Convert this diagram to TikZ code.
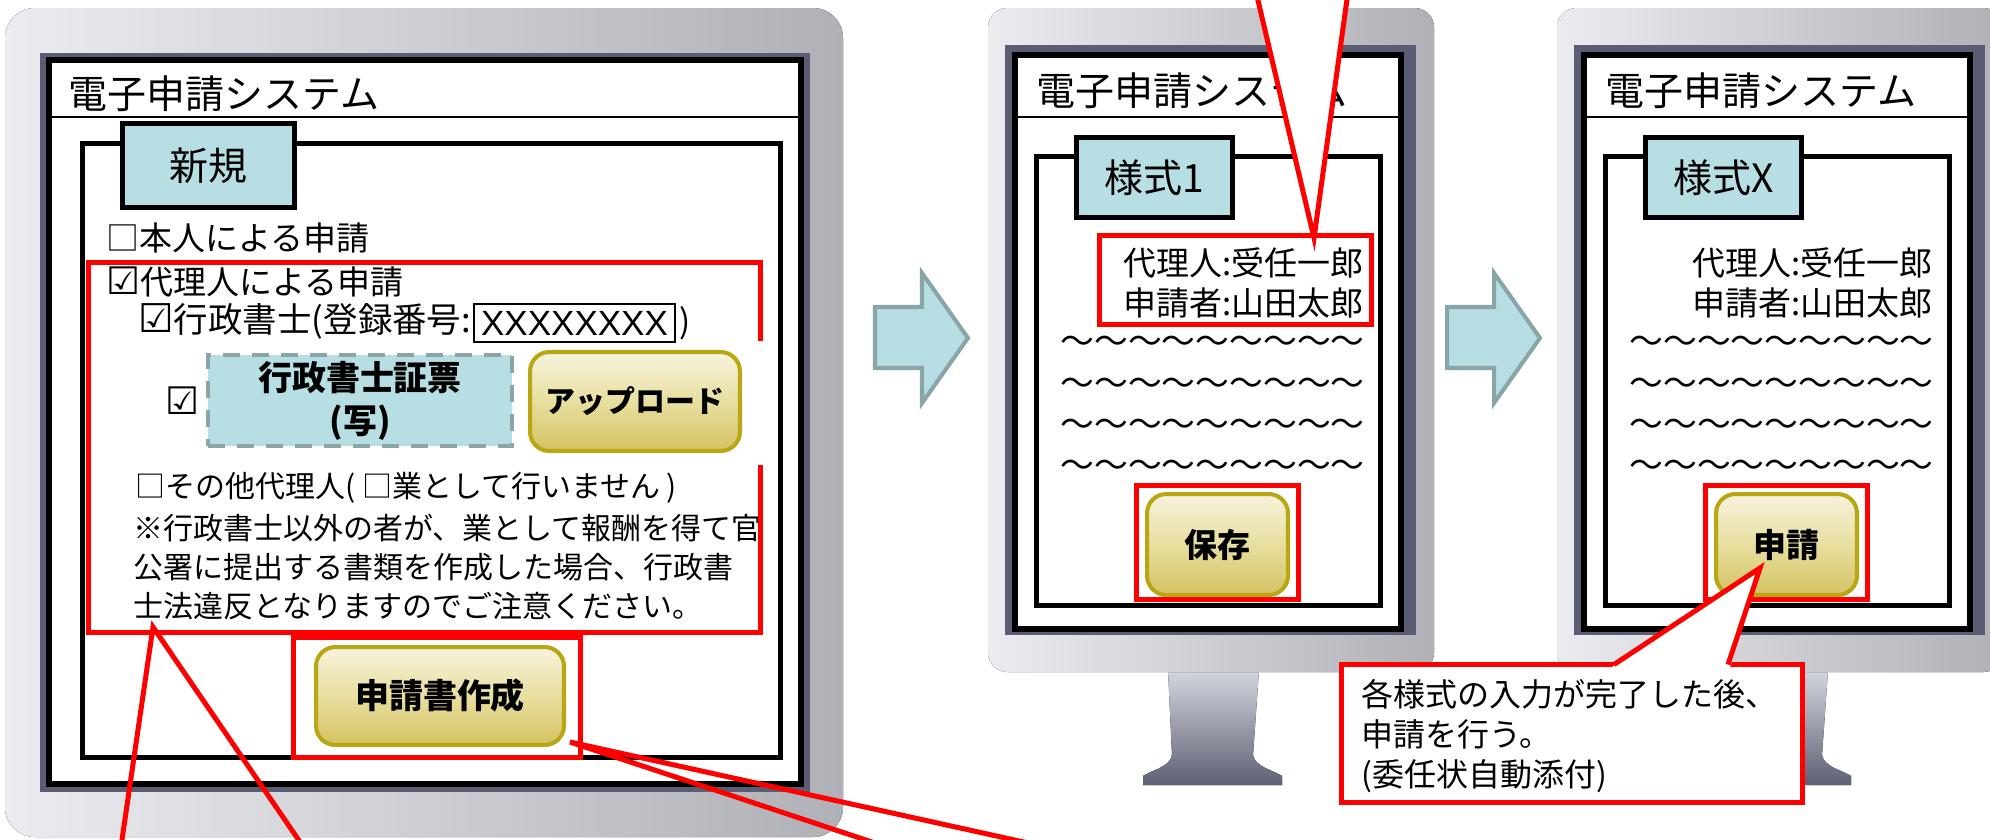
\documentclass[tikz,border=0pt]{standalone}
\usepackage{fontspec}
\setmainfont{Noto Sans CJK JP}
\newfontfamily\symfont[Scale=1.15]{DejaVu Sans}
\newfontfamily\latinfont{Liberation Sans}
\usetikzlibrary{positioning}

% font size given in pixels of the picture (1px = 0.02cm)
\newcommand\pxf[2][1.2]{\fontsize{\fpeval{#2*0.569}}{\fpeval{#2*0.569*#1}}\selectfont}
\newcommand\chk{{\symfont ☑}}

\definecolor{tabteal}{RGB}{183,222,226}
\definecolor{dashgray}{RGB}{140,166,168}
\definecolor{arrowedge}{RGB}{138,165,167}
\definecolor{framedark}{RGB}{90,93,116}
\definecolor{bodylight}{RGB}{234,236,240}
\definecolor{bodydark}{RGB}{176,177,182}
\definecolor{btnedge}{RGB}{184,166,18}
\definecolor{btntop}{RGB}{247,243,222}
\definecolor{btnmid}{RGB}{232,223,160}
\definecolor{btnbot}{RGB}{212,194,98}
\definecolor{standlight}{RGB}{212,214,222}
\definecolor{standdark}{RGB}{94,96,116}

\tikzset{
  txt/.style={inner sep=0pt,anchor=west},
  f30/.style={font=\pxf{30}},
  f33/.style={font=\pxf{33}},
  f38/.style={font=\pxf{39}},
  screenbox/.style={fill=white,draw=black,line width=3.4pt},
  formbox/.style={draw=black,line width=2.85pt},
  tabbox/.style={draw=black,fill=tabteal,line width=2.85pt,inner sep=0pt},
  dashbox/.style={draw=dashgray,fill=tabteal,line width=2.3pt,dash pattern=on 9.5pt off 7pt,inner sep=0pt},
  goldbtn/.style={draw=btnedge,line width=2.3pt,rounded corners=11pt,top color=btntop,bottom color=btnbot,middle color=btnmid,inner sep=0pt},
  redbox/.style={draw=red,line width=2.85pt},
  pointer/.style={draw=red,line width=2.85pt,line join=miter},
  flowarrow/.style={fill=tabteal,draw=arrowedge,line width=2.3pt,line join=miter}
}

\begin{document}
\begin{tikzpicture}[x=0.02cm,y=-0.02cm]
  \useasboundingbox (0,0) rectangle (1990,839);
  \fill[white] (0,0) rectangle (1990,839);

  % left monitor
  \fill[left color=bodylight,right color=bodydark,rounded corners=17pt] (5,8) rectangle (843,837);
  \fill[framedark] (40,53) rectangle (810,792);
  \draw[screenbox] (49,60) rectangle (801,784);
  \draw[line width=1.1pt] (49,117) -- (801,117);
  \node[txt,f38] (title-main) at (68,94) {電子申請システム};
  \draw[formbox] (82.5,143.5) rectangle (780.5,757.5);
  \node[tabbox,minimum width=3.44cm,minimum height=1.68cm,f38] (tab-new) at (208.5,165.5) {新規};

  \node[txt,f33] (opt-self) at (106,238) {□本人による申請};
  \node[txt,f33] (opt-agent) at (106,282) {\chk 代理人による申請};
  \node[txt,font={\pxf{34.5}}] (opt-gyosei) at (138,321) {\chk 行政書士(登録番号:};
  \node[draw,line width=1.1pt,inner sep=0pt,minimum width=4.02cm,minimum height=0.76cm,font={\latinfont\pxf{35}}] (regno) at (574.5,323) {XXXXXXXX};
  \node[inner sep=0pt,f33,right=0.06cm of regno] (regclose) {)};

  \node[dashbox,minimum width=6.08cm,minimum height=1.82cm,align=center,font={\bfseries\pxf[1.26]{34}}] (copy) at (360,400.5) {行政書士証票\\(写)};
  \node[inner sep=0pt,f33,left=0.12cm of copy] (chk-copy) {\chk};
  \node[goldbtn,minimum width=4.2cm,minimum height=1.98cm,font={\bfseries\pxf{30}}] (upload) at (635,401.5) {アップロード};

  \node[txt,f30] (opt-other) at (135,488) {□その他代理人( □業として行いません )};
  \node[txt,align=left,font={\pxf[1.3]{30}}] (caution) at (133,567) {※行政書士以外の者が、業として報酬を得て官\\公署に提出する書類を作成した場合、行政書\\士法違反となりますのでご注意ください。};

  \node[goldbtn,minimum width=4.96cm,minimum height=1.96cm,font={\bfseries\pxf{34}}] (create) at (440,696) {申請書作成};

  % red marks on the left screen
  \draw[redbox] (760.5,341) -- (760.5,262.5) -- (88.5,262.5) -- (88.5,632.5) -- (760.5,632.5) -- (760.5,465);
  \draw[redbox] (293.5,637.5) rectangle (580.5,757.5);

  % arrows
  \foreach \ax in {875,1447} {
    \draw[flowarrow] (\ax,307) -- ++(47,0) -- ++(0,-34) -- ++(46,65) -- ++(-46,65) -- ++(0,-35) -- ++(-47,0) -- cycle;
  }

  % form monitors
  \foreach \dx/\nm/\tabtxt/\btntxt in {0/a/様式1/保存, 569/b/様式X/申請} {
    \begin{scope}[xshift=\dx*0.02cm]
      \fill[top color=standlight,bottom color=standdark] (1168,670) -- (1172,755) .. controls (1170,767) and (1152,770) .. (1143,776) -- (1143,785) -- (1282,785) -- (1282,776) .. controls (1273,770) and (1255,767) .. (1253,755) -- (1259,670) -- cycle;
      \fill[left color=bodylight,right color=bodydark,rounded corners=11pt] (988,8) rectangle (1434,672);
      \fill[framedark] (1005,45) rectangle (1416,635);
      \draw[screenbox] (1015,55) rectangle (1401,629);
      \draw[line width=1.1pt] (1015,117) -- (1401,117);
      \node[txt,f38] (title-\nm) at (1036,91) {電子申請システム};
      \draw[formbox] (1036,156) rectangle (1380,605);
      \node[tabbox,minimum width=3.12cm,minimum height=1.6cm,f38] (tab-\nm) at (1154.5,177.5) {\tabtxt};
      \node[txt,anchor=east,f33] (agent-\nm) at (1364,263) {代理人:受任一郎};
      \node[txt,anchor=east,f33] (applicant-\nm) at (1364,303) {申請者:山田太郎};
      \foreach \ty in {345,387,428,469}
        \node[txt,anchor=east,font={\pxf{33.8}}] (wave-\nm-\ty) at (1365,\ty) {～～～～～～～～～};
      \node[goldbtn,minimum width=2.82cm,minimum height=2.02cm,font={\bfseries\pxf{33}}] (btn-\nm) at (1217.5,544.5) {\btntxt};
      \draw[redbox] (1136.5,485.5) rectangle (1298.5,599.5);
    \end{scope}
  }
  \draw[redbox] (1099.5,235.5) rectangle (1371.5,324.5);

  % callout on the last screen
  \node[draw=red,fill=white,line width=2.85pt,minimum width=9.22cm,minimum height=2.76cm] (callout) at (1572,733.5) {};
  \coordinate (tipC) at (1760,568);
  \coordinate (baseC1) at (1614,664.5);
  \coordinate (baseC2) at (1728,664.5);
  \fill[white] (1612,667) -- (tipC) -- (1730,667) -- cycle;
  \draw[pointer] (baseC1) -- (tipC) -- (baseC2);
  \node[txt,align=left,font={\pxf[1.25]{32}}] (note) at (1361,736) {各様式の入力が完了した後、\\申請を行う。\\(委任状自動添付)};

  % pointers of callouts lying outside the picture
  \coordinate (tipT) at (1314,238);
  \coordinate (topL) at (1256,-8);
  \coordinate (topR) at (1348,-8);
  \fill[white] (topL) -- (tipT) -- (topR) -- cycle;
  \draw[pointer] (topL) -- (tipT) -- (topR);

  \coordinate (tipL) at (153,627);
  \coordinate (botL1) at (120.5,850);
  \coordinate (botL2) at (305.5,850);
  \draw[pointer] (botL1) -- (tipL) -- (botL2);

  \coordinate (tipB) at (570,742);
  \coordinate (botB1) at (896,850);
  \coordinate (botB2) at (1060,850);
  \draw[pointer] (botB1) -- (tipB) -- (botB2);
\end{tikzpicture}
\end{document}
